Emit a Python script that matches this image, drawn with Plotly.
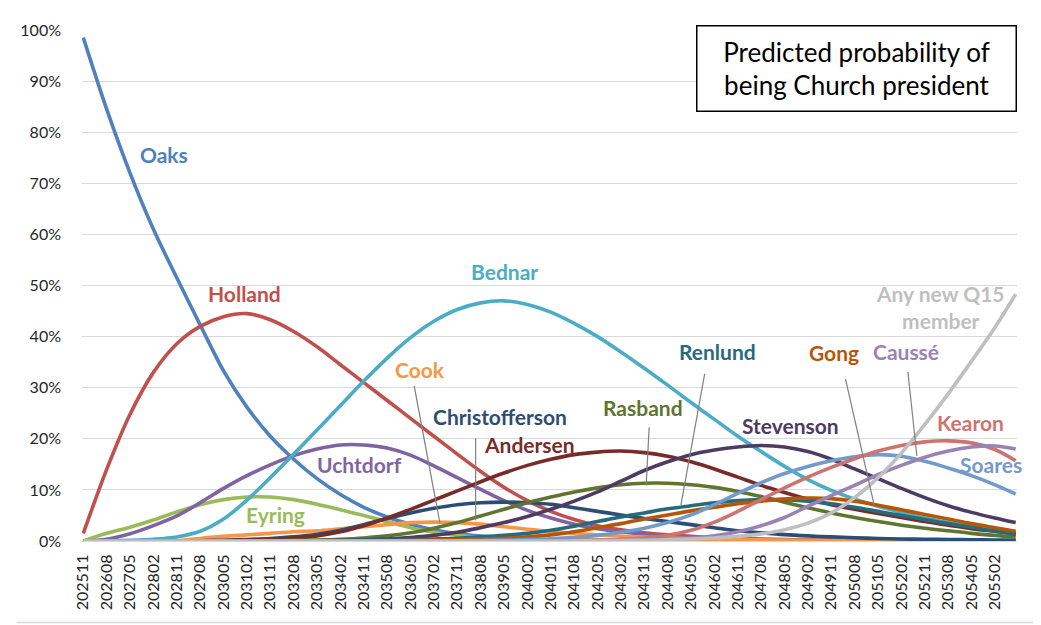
import plotly.graph_objects as go

# ---------------- data (percent values) ----------------
months = ["202511", "202608", "202705", "202802", "202811", "202908", "203005", "203102",
          "203111", "203208", "203305", "203402", "203411", "203508", "203605", "203702",
          "203711", "203808", "203905", "204002", "204011", "204108", "204205", "204302",
          "204311", "204408", "204505", "204602", "204611", "204708", "204805", "204902",
          "204911", "205008", "205105", "205202", "205211", "205308", "205405", "205502",
          "205510"]
tick_labels = months[:-1]
first_month = "202511"
last_month = "205510"

oaks = [98.5, 84.5, 72, 61, 51.5, 42.3, 33.3, 26.2, 20.5, 16.0, 12.2, 9.1, 6.6, 4.7, 3.3, 2.2,
        1.45, 0.95, 0.6, 0.38, 0.24, 0.15, 0.1, 0.06, 0.04, 0.03, 0.02, 0.02, 0.01, 0.01,
        0.01, 0.01, 0, 0, 0, 0, 0, 0, 0, 0, 0]
holland = [1.5, 14, 24.8, 33.0, 38.6, 42.0, 43.9, 44.5, 43.3, 41.0, 38.0, 34.5, 31.0, 27.5,
           24.0, 20.5, 17.0, 13.6, 10.5, 7.9, 5.8, 4.2, 3.0, 2.2, 1.6, 1.2, 0.9, 0.65, 0.5,
           0.38, 0.3, 0.22, 0.17, 0.13, 0.1, 0.08, 0.06, 0.05, 0.04, 0.03, 0.03]
eyring = [0, 1.5, 2.7, 4.1, 5.7, 7.1, 8.1, 8.6, 8.6, 8.1, 7.2, 6.1, 5.0, 3.8, 2.6, 1.7, 1.1,
          0.7, 0.5, 0.35, 0.25, 0.18, 0.13, 0.1, 0.08, 0.06, 0.05, 0.04, 0.03, 0.02, 0.02,
          0.01, 0.01, 0.01, 0, 0, 0, 0, 0, 0, 0]
uchtdorf = [0, 0.35, 1.4, 3.0, 4.9, 7.5, 10.3, 12.8, 14.9, 16.7, 18.0, 18.8, 18.8, 18.2, 16.8,
            14.7, 12.4, 10.1, 7.9, 6.0, 4.5, 3.3, 2.4, 1.8, 1.3, 0.95, 0.7, 0.5, 0.38, 0.28,
            0.2, 0.15, 0.1, 0.08, 0.06, 0.05, 0.04, 0.03, 0.02, 0.02, 0.01]
bednar = [0, 0.05, 0.15, 0.35, 0.8, 1.9, 4.3, 8.0, 12.4, 17.0, 21.7, 26.5, 31.3, 35.8, 39.8,
          43.0, 45.3, 46.6, 47.0, 46.3, 44.8, 42.6, 40.0, 37.0, 33.8, 30.5, 27.1, 23.8, 20.5,
          17.5, 14.6, 12.0, 9.9, 8.2, 6.8, 5.6, 4.5, 3.6, 2.8, 2.1, 1.5]
cook = [0, 0, 0, 0, 0.05, 0.5, 0.9, 1.2, 1.5, 1.8, 2.0, 2.4, 2.8, 3.2, 3.6, 3.7, 3.6, 3.3,
        2.8, 2.3, 1.9, 1.5, 1.2, 0.95, 0.75, 0.6, 0.45, 0.35, 0.28, 0.22, 0.17, 0.13, 0.1,
        0.08, 0.06, 0.05, 0.04, 0.03, 0.03, 0.02, 0.02]
christofferson = [0, 0, 0, 0, 0.02, 0.05, 0.15, 0.3, 0.5, 0.8, 1.3, 2.1, 3.2, 4.4, 5.5, 6.4,
                  7.1, 7.5, 7.6, 7.5, 7.2, 6.5, 5.8, 5.1, 4.4, 3.8, 3.2, 2.6, 2.0, 1.6, 1.25,
                  1.0, 0.8, 0.65, 0.5, 0.4, 0.35, 0.3, 0.25, 0.2, 0.2]
andersen = [0, 0, 0, 0, 0.02, 0.05, 0.1, 0.2, 0.35, 0.6, 1.0, 1.8, 3.0, 4.5, 6.2, 8.0, 9.8,
            11.6, 13.3, 14.8, 16.0, 16.9, 17.4, 17.6, 17.3, 16.6, 15.5, 14.1, 12.5, 10.9, 9.5,
            8.2, 7.1, 6.2, 5.4, 4.6, 3.8, 3.1, 2.4, 1.9, 1.5]
rasband = [0, 0, 0, 0, 0, 0, 0.02, 0.04, 0.07, 0.12, 0.2, 0.35, 0.6, 1.0, 1.6, 2.5, 3.6, 4.9,
           6.2, 7.5, 8.6, 9.6, 10.4, 11.0, 11.3, 11.3, 11.0, 10.5, 9.7, 8.7, 7.6, 6.5, 5.5,
           4.6, 3.8, 3.1, 2.5, 2.0, 1.5, 1.1, 0.8]
stevenson = [0, 0, 0, 0, 0, 0, 0, 0, 0.01, 0.02, 0.05, 0.1, 0.2, 0.4, 0.7, 1.1, 1.7, 2.6, 3.6,
             4.8, 6.2, 7.8, 9.6, 11.7, 13.8, 15.5, 16.9, 17.8, 18.4, 18.7, 18.4, 17.5, 16.0,
             14.1, 12.2, 10.3, 8.5, 6.9, 5.6, 4.5, 3.6]
renlund = [0, 0, 0, 0, 0, 0, 0, 0, 0.01, 0.03, 0.05, 0.08, 0.13, 0.2, 0.28, 0.4, 0.55, 0.8,
           1.1, 1.5, 2.1, 2.9, 3.8, 4.7, 5.5, 6.3, 6.9, 7.5, 7.9, 8.1, 8.1, 7.8, 7.3, 6.6,
           5.8, 5.0, 4.2, 3.4, 2.7, 1.9, 1.3]
gong = [0, 0, 0, 0, 0, 0, 0, 0, 0, 0, 0, 0, 0.02, 0.05, 0.1, 0.17, 0.27, 0.4, 0.55, 0.8, 1.2,
        1.8, 2.6, 3.4, 4.3, 5.1, 5.9, 6.6, 7.3, 7.8, 8.2, 8.4, 8.3, 7.8, 7.0, 6.1, 5.2, 4.3,
        3.4, 2.6, 1.9]
soares = [0, 0, 0, 0, 0, 0, 0, 0, 0, 0, 0, 0, 0, 0, 0, 0.02, 0.05, 0.1, 0.18, 0.3, 0.45, 0.7,
          1.1, 1.7, 2.5, 3.6, 5.1, 7.1, 9.3, 11.4, 13.2, 14.6, 15.7, 16.5, 16.9, 16.6, 15.6,
          14.3, 12.8, 11.0, 9.2]
kearon = [0, 0, 0, 0, 0, 0, 0, 0, 0, 0, 0, 0, 0, 0, 0, 0, 0, 0, 0, 0, 0.05, 0.1, 0.2, 0.35,
          0.6, 1.1, 2.1, 3.7, 5.8, 8.1, 10.4, 12.5, 14.4, 16.1, 17.6, 18.7, 19.4, 19.6, 19.2,
          17.9, 15.7]
causse = [0, 0, 0, 0, 0, 0, 0, 0, 0, 0, 0, 0, 0, 0, 0, 0, 0, 0, 0, 0, 0, 0, 0.05, 0.1, 0.2,
          0.35, 0.6, 1.0, 1.8, 3.0, 4.6, 6.8, 8.9, 10.9, 13.0, 14.8, 16.4, 17.6, 18.4, 18.6,
          18.0]
new_q15 = [0, 0, 0, 0, 0, 0, 0, 0, 0, 0, 0, 0, 0, 0, 0, 0, 0, 0, 0, 0, 0, 0.02, 0.05, 0.1,
           0.15, 0.25, 0.4, 0.6, 0.9, 1.4, 2.2, 3.5, 5.5, 8.5, 12.4, 17.2, 22.8, 28.8, 35.2,
           41.8, 48.3]

series = [
    ("Oaks", oaks, "#4F81BD"),
    ("Holland", holland, "#C0504D"),
    ("Eyring", eyring, "#9BBB59"),
    ("Uchtdorf", uchtdorf, "#8064A2"),
    ("Bednar", bednar, "#4BACC6"),
    ("Cook", cook, "#F79646"),
    ("Christofferson", christofferson, "#2C4D75"),
    ("Andersen", andersen, "#772C2A"),
    ("Rasband", rasband, "#5F7530"),
    ("Stevenson", stevenson, "#4D3B62"),
    ("Renlund", renlund, "#276A7C"),
    ("Gong", gong, "#B65708"),
    ("Soares", soares, "#729ACA"),
    ("Kearon", kearon, "#CD7371"),
    ("Caussé", causse, "#9983B5"),
    ("Any new Q15 member", new_q15, "#BFBFBF"),
]


def month_index(m):
    return (int(m[:4]) - int(first_month[:4])) * 12 + int(m[4:]) - int(first_month[4:])


xs = [month_index(m) for m in months]
n_months = month_index(last_month) + 1

# ---------------- layout geometry ----------------
# The page has an 8px body margin, so the figure is made 8px smaller and all
# positions below are given in the screenshot's pixel frame.
PAGE_W, PAGE_H = 1041, 625
OFF = 8
W, H = PAGE_W - OFF, PAGE_H - OFF
PLOT_L, PLOT_R, PLOT_T, PLOT_B = 74, 1017, 24, 541      # in page pixels
L, T = PLOT_L - OFF, PLOT_T - OFF
PW, PH = PLOT_R - PLOT_L, PLOT_B - PLOT_T
R, B = W - L - PW, H - T - PH


def px(xp):
    return (xp - PLOT_L) / PW


def py(yp):
    return (PLOT_B - yp) / PH


FONT = "Lato, 'Open Sans', sans-serif"

fig = go.Figure()
for name, vals, color in series:
    fig.add_trace(go.Scatter(
        x=xs, y=[v / 100 for v in vals], mode="lines", name=name,
        line=dict(color=color, width=3.6, shape="spline", smoothing=0.9),
        hoverinfo="name+y",
    ))

# series labels (page-pixel centres)
labels = [
    ("Oaks", 157, 150, "#4F81BD"),
    ("Holland", 238, 291, "#C0504D"),
    ("Bednar", 500, 268, "#4BACC6"),
    ("Eyring", 269, 514, "#9BBB59"),
    ("Uchtdorf", 354, 464, "#8064A2"),
    ("Cook", 415, 367, "#F79646"),
    ("Christofferson", 496, 415, "#2C4D75"),
    ("Andersen", 525, 443, "#772C2A"),
    ("Rasband", 640, 406, "#5F7530"),
    ("Renlund", 715, 349, "#276A7C"),
    ("Stevenson", 789, 424, "#4D3B62"),
    ("Gong", 832, 350, "#B65708"),
    ("Caussé", 905, 349, "#9983B5"),
    ("Kearon", 970, 421, "#CD7371"),
    ("Soares", 991, 464, "#729ACA"),
    ("Any new Q15<br>member", 940, 304, "#BFBFBF"),
]
annotations = []
for text, lx, ly, c in labels:
    annotations.append(dict(
        text="<b>%s</b>" % text, x=px(lx), y=py(ly), xref="paper", yref="paper",
        xanchor="center", yanchor="middle", showarrow=False,
        font=dict(family=FONT, size=21, color=c),
    ))

annotations.append(dict(
    text="Predicted probability of<br>being Church president",
    x=px(855), y=py(63), xref="paper", yref="paper", xanchor="center", yanchor="middle",
    showarrow=False, font=dict(family=FONT, size=26, color="#000000"),
    bordercolor="#000000", borderwidth=1.5, borderpad=0, bgcolor="#FFFFFF",
    width=318, height=84,
))

leaders = [
    (409, 384, 435, 523),
    (471, 437, 471, 520),
    (646, 426, 643, 485),
    (702, 372, 678, 505),
    (844, 377, 873, 505),
    (907, 370, 916, 455),
]
shapes = []
for x0, y0, x1, y1 in leaders:
    shapes.append(dict(type="line", xref="paper", yref="paper",
                       x0=px(x0), y0=py(y0), x1=px(x1), y1=py(y1),
                       line=dict(color="#808080", width=1.2)))
# chart-area border (right and bottom edges of the page)
shapes.append(dict(type="line", xref="paper", yref="paper",
                   x0=px(PAGE_W - 1.5), x1=px(PAGE_W - 1.5), y0=py(PAGE_H - 1.5), y1=py(OFF),
                   line=dict(color="#D9D9D9", width=1.5)))
shapes.append(dict(type="line", xref="paper", yref="paper",
                   x0=px(OFF), x1=px(PAGE_W - 1.5), y0=py(PAGE_H - 1.5), y1=py(PAGE_H - 1.5),
                   line=dict(color="#D9D9D9", width=1.5)))

fig.update_layout(
    width=W, height=H,
    margin=dict(l=L, r=R, t=T, b=B, pad=0),
    paper_bgcolor="#FFFFFF", plot_bgcolor="#FFFFFF",
    showlegend=False,
    font=dict(family=FONT, color="#262626"),
    annotations=annotations,
    shapes=shapes,
    xaxis=dict(
        range=[-0.5, n_months - 0.5],
        tickmode="array",
        tickvals=[month_index(m) for m in tick_labels],
        ticktext=tick_labels,
        tickangle=-90,
        showgrid=False, zeroline=False,
        showline=True, linecolor="#D9D9D9", linewidth=1.3,
        ticks="", ticklabelstandoff=6,
        tickfont=dict(family=FONT, size=16, color="#262626"),
    ),
    yaxis=dict(
        range=[0, 1.0], dtick=0.1, tickformat=".0%",
        showgrid=True, gridcolor="#D9D9D9", gridwidth=1.3,
        zeroline=False, showline=False, ticks="", ticklabelstandoff=20,
        tickfont=dict(family=FONT, size=16, color="#262626"),
    ),
)

fig.write_html("out.html")
